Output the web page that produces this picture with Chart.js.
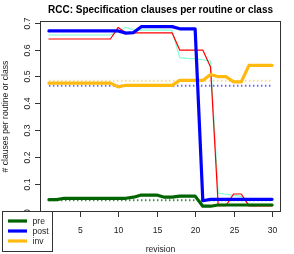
<!DOCTYPE html>
<html>
<head>
<meta charset="utf-8">
<script src="https://cdn.jsdelivr.net/npm/chart.js@4/dist/chart.umd.min.js"></script>
<style>
  html, body { margin: 0; padding: 0; background: #fff; }
  #wrap { width: 294px; height: 254px; }
</style>
</head>
<body>
<div id="wrap"><canvas id="chart" width="294" height="254"></canvas></div>
<script>
const revisions = [1, 2, 3, 4, 5, 6, 7, 8, 9, 10, 11, 12, 13, 14, 15,
  16, 17, 18, 19, 20, 21, 22, 23, 24, 25, 26, 27, 28, 29, 30];

const preValues = [0.042, 0.042, 0.047, 0.047, 0.047, 0.047, 0.047, 0.047, 0.047, 0.047,
  0.047, 0.051, 0.059, 0.059, 0.059, 0.051, 0.051, 0.055, 0.055, 0.055,
  0.0175, 0.0175, 0.022, 0.022, 0.022, 0.022, 0.022, 0.022, 0.022, 0.022];
const postValues = [0.669, 0.669, 0.669, 0.669, 0.669, 0.669, 0.669, 0.669, 0.669, 0.669,
  0.661, 0.663, 0.685, 0.685, 0.685, 0.685, 0.685, 0.677, 0.677, 0.677,
  0.038, 0.043, 0.043, 0.043, 0.043, 0.043, 0.043, 0.043, 0.043, 0.043];
const invValues = [0.475, 0.475, 0.475, 0.475, 0.475, 0.475, 0.475, 0.475, 0.475, 0.461,
  0.467, 0.467, 0.467, 0.467, 0.467, 0.467, 0.467, 0.485, 0.485, 0.485,
  0.485, 0.507, 0.499, 0.499, 0.48, 0.48, 0.541, 0.541, 0.541, 0.541];
// the two thin unlabelled lines
const thinRedValues = [0.639, 0.639, 0.639, 0.639, 0.639, 0.639, 0.639, 0.639, 0.639, 0.682,
  0.662, 0.662, 0.662, 0.662, 0.662, 0.662, 0.662, 0.598, 0.598, 0.598,
  0.598, 0.535, 0.02, 0.02, 0.063, 0.063, 0.019, 0.019, 0.019, 0.019];
const thinAquaValues = [0.654, 0.654, 0.654, 0.654, 0.654, 0.654, 0.654, 0.654, 0.654, 0.667,
  0.683, 0.672, 0.672, 0.672, 0.672, 0.672, 0.672, 0.57, 0.567, 0.565,
  0.562, 0.557, 0.066, 0.062, 0.058, 0.054, 0.024, 0.024, 0.024, 0.024];

// dotted mean lines
const preMean = 0.04;
const postMean = 0.465;
const invMean = 0.484;

const xTicks = [5, 10, 15, 20, 25, 30];
const yTicks = [0, 0.1, 0.2, 0.3, 0.4, 0.5, 0.6, 0.7];
const legendNames = ["pre", "post", "inv"];

const FONT = '"Liberation Sans", Arial, sans-serif';

function points(values) {
  return values.map((v, i) => ({ x: revisions[i], y: v }));
}

function meanLine(value) {
  return [
    { x: revisions[0], y: value },
    { x: revisions[revisions.length - 1], y: value },
  ];
}

function solid(label, values, color, width, order) {
  return {
    label,
    data: points(values),
    borderColor: color,
    borderWidth: width,
    borderCapStyle: "round",
    borderJoinStyle: "round",
    pointRadius: 0,
    tension: 0,
    fill: false,
    order,
  };
}

function dotted(value, color) {
  return {
    label: "",
    data: meanLine(value),
    borderColor: color,
    borderWidth: 2,
    borderDash: [1.5, 2.5],
    pointRadius: 0,
    fill: false,
    order: 6,
  };
}

const rFrame = {
  id: "rFrame",
  afterDraw(chart) {
    const { ctx, chartArea: a, scales: { x, y } } = chart;
    ctx.save();
    ctx.strokeStyle = "#333";
    ctx.lineWidth = 1;
    ctx.strokeRect(a.left + 0.5, a.top + 0.5, a.right - a.left - 1, a.bottom - a.top - 1);

    ctx.fillStyle = "#222";
    ctx.font = `8.6px ${FONT}`;
    ctx.textAlign = "center";
    ctx.textBaseline = "alphabetic";

    yTicks.forEach((v) => {
      const py = Math.round(y.getPixelForValue(v)) + 0.5;
      ctx.beginPath();
      ctx.moveTo(a.left - 5, py);
      ctx.lineTo(a.left + 0.5, py);
      ctx.stroke();
      ctx.save();
      ctx.translate(a.left - 10.5, py);
      ctx.rotate(-Math.PI / 2);
      ctx.fillText(String(v), 0, 0);
      ctx.restore();
    });

    xTicks.forEach((v) => {
      const px = Math.round(x.getPixelForValue(v)) + 0.5;
      ctx.beginPath();
      ctx.moveTo(px, a.bottom - 0.5);
      ctx.lineTo(px, a.bottom + 5);
      ctx.stroke();
      ctx.fillText(String(v), px, a.bottom + 20.5);
    });

    const midX = (a.left + a.right) / 2;
    ctx.fillText("revision", midX, 252);

    ctx.save();
    ctx.translate(7.5, (a.top + a.bottom) / 2);
    ctx.rotate(-Math.PI / 2);
    ctx.fillText("# clauses per routine or class", 0, 0);
    ctx.restore();

    ctx.font = `bold 10px ${FONT}`;
    ctx.fillStyle = "#000";
    ctx.fillText("RCC: Specification clauses per routine or class", midX, 13.3);

    // legend box in the bottom-left corner
    ctx.fillStyle = "#fff";
    ctx.fillRect(2.5, 211.5, 50, 40);
    ctx.strokeStyle = "#333";
    ctx.strokeRect(2.5, 211.5, 50, 40);
    ctx.font = `8.6px ${FONT}`;
    ctx.textAlign = "left";
    ctx.textBaseline = "middle";
    legendNames.forEach((name, i) => {
      const ds = chart.data.datasets.find((d) => d.label === name);
      const ly = 221 + i * 10;
      ctx.strokeStyle = ds.borderColor;
      ctx.lineWidth = ds.borderWidth;
      ctx.beginPath();
      ctx.moveTo(8, ly);
      ctx.lineTo(27, ly);
      ctx.stroke();
      ctx.fillStyle = "#222";
      ctx.fillText(name, 32.5, ly + 0.5);
    });
    ctx.restore();
  },
};

new Chart(document.getElementById("chart"), {
  type: "line",
  data: {
    datasets: [
      solid("post", postValues, "#0000ff", 3.2, 1),
      solid("inv", invValues, "#ffb90f", 3.2, 2),
      solid("pre", preValues, "#006400", 3.2, 3),
      solid("", thinRedValues, "#ff0000", 1.2, 4),
      solid("", thinAquaValues, "#7fffd4", 1.2, 5),
      dotted(preMean, "rgba(0, 100, 0, 0.75)"),
      dotted(postMean, "rgba(0, 0, 255, 0.6)"),
      dotted(invMean, "rgba(255, 185, 15, 0.55)"),
    ],
  },
  options: {
    responsive: false,
    animation: false,
    devicePixelRatio: 1,
    layout: { padding: { left: 40, right: 13, top: 21, bottom: 42 } },
    plugins: { legend: { display: false }, tooltip: { enabled: false } },
    scales: {
      x: { type: "linear", min: -0.16, max: 31.16, display: false },
      y: { type: "linear", min: -0.004, max: 0.706, display: false },
    },
  },
  plugins: [rFrame],
});
</script>
</body>
</html>
